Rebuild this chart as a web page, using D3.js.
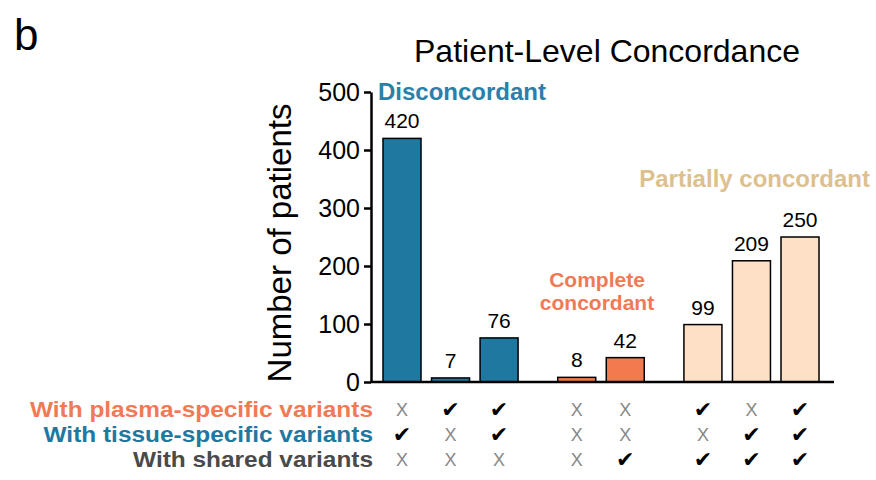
<!DOCTYPE html>
<html>
<head>
<meta charset="utf-8">
<script src="https://cdn.jsdelivr.net/npm/d3@7"></script>
<style>
  html, body { margin: 0; padding: 0; background: #fff; }
  svg { display: block; font-family: "Liberation Sans", Arial, Helvetica, sans-serif; }
</style>
</head>
<body>
<svg id="chart" width="876" height="480"></svg>
<script>
// ---- data ----
const groups = ["Disconcordant", "Complete concordant", "Partially concordant"];
const barGroup = [0, 0, 0, 1, 1, 2, 2, 2];
const values = [420, 7, 76, 8, 42, 99, 209, 250];
const yTicks = [0, 100, 200, 300, 400, 500];
const rowLabels = ["With plasma-specific variants", "With tissue-specific variants", "With shared variants"];
const plasma = [0, 1, 1, 0, 0, 1, 0, 1];
const tissue = [1, 0, 1, 0, 0, 0, 1, 1];
const shared = [0, 0, 0, 0, 1, 1, 1, 1];
const rows = [plasma, tissue, shared];

// ---- styles ----
const barFill = ["#1f78a0", "#f27a4e", "#fde0c5"];
const groupTextColor = ["#2a80a8", "#f07a55", "#dcc18f"];
const rowColor = ["#f07a55", "#1f78a0", "#4a4a4a"];

const svg = d3.select("#chart");
const gapUnits = 0.6;
const pos = values.map((v, i) => i + barGroup[i] * gapUnits);
const x = d3.scaleLinear().domain([0, d3.max(pos)]).range([402, 800]);
const y = d3.scaleLinear().domain([0, 500]).range([382, 92]);
const barW = 38;

// panel letter
svg.append("text").attr("x", 14).attr("y", 50).attr("font-size", 44).attr("fill", "#000").text("b");

// title
svg.append("text").attr("x", 607).attr("y", 62).attr("text-anchor", "middle")
  .attr("font-size", 32).attr("fill", "#000").text("Patient-Level Concordance");

// y axis
const yAxis = d3.axisLeft(y).tickValues(yTicks).tickSize(7).tickPadding(4).tickSizeOuter(0);
const gy = svg.append("g").attr("transform", "translate(371,0)").call(yAxis);
gy.select(".domain").attr("stroke", "#000").attr("stroke-width", 2.5);
gy.selectAll(".tick line").attr("stroke", "#000").attr("stroke-width", 2.5);
gy.selectAll(".tick text").attr("font-size", 25).attr("fill", "#000")
  .attr("font-family", "'Liberation Sans', Arial, sans-serif");

// y axis title
svg.append("text").attr("transform", "translate(291,243) rotate(-90)")
  .attr("text-anchor", "middle").attr("font-size", 33).attr("fill", "#000")
  .text("Number of patients");

// bars
svg.append("g").selectAll("rect").data(values).join("rect")
  .attr("x", (d, i) => x(pos[i]) - barW / 2)
  .attr("width", barW)
  .attr("y", d => y(d))
  .attr("height", d => y(0) - y(d))
  .attr("fill", (d, i) => barFill[barGroup[i]])
  .attr("stroke", "#000").attr("stroke-width", 1.5);

// value labels
svg.append("g").selectAll("text").data(values).join("text")
  .attr("x", (d, i) => x(pos[i]))
  .attr("y", d => y(d) - 10)
  .attr("text-anchor", "middle").attr("font-size", 21).attr("fill", "#000")
  .text(d => d);

// x axis line
svg.append("line").attr("x1", 370).attr("x2", 834).attr("y1", y(0)).attr("y2", y(0))
  .attr("stroke", "#000").attr("stroke-width", 2.5);

// group labels
svg.append("text").attr("x", 378).attr("y", 100).attr("font-size", 24).attr("font-weight", "bold")
  .attr("fill", groupTextColor[0]).text(groups[0]);
const cc = svg.append("text").attr("x", 597).attr("y", 287).attr("text-anchor", "middle")
  .attr("font-size", 21).attr("font-weight", "bold").attr("fill", groupTextColor[1]);
cc.append("tspan").attr("x", 597).attr("dy", 0).text(groups[1].split(" ")[0]);
cc.append("tspan").attr("x", 597).attr("dy", 23).text(groups[1].split(" ")[1]);
svg.append("text").attr("x", 870).attr("y", 187).attr("text-anchor", "end")
  .attr("font-size", 24).attr("font-weight", "bold")
  .attr("fill", groupTextColor[2]).text(groups[2]);

// row labels
const rowY = [417, 442, 467];
svg.append("g").selectAll("text").data(rowLabels).join("text")
  .attr("transform", (d, i) => `translate(373,${rowY[i]}) scale(1.11,1)`)
  .attr("text-anchor", "end").attr("font-size", 22).attr("font-weight", "bold")
  .attr("fill", (d, i) => rowColor[i]).text(d => d);

// check / cross marks
rows.forEach((r, ri) => {
  svg.append("g").selectAll("text").data(r).join("text")
    .attr("x", (d, i) => x(pos[i]))
    .attr("y", d => d ? rowY[ri] : rowY[ri] - 1)
    .attr("text-anchor", "middle")
    .attr("font-family", d => d ? "'DejaVu Sans', sans-serif" : "'Liberation Sans Narrow', 'Liberation Sans', Arial, sans-serif")
    .attr("font-size", d => d ? 22 : 18)
    .attr("fill", d => d ? "#000" : "#888")
    .text(d => d ? "\u2714" : "X");
});
</script>
</body>
</html>
